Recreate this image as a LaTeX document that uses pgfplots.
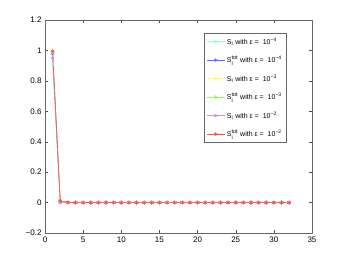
\documentclass[border=0pt]{standalone}
\usepackage{pgfplots}
\pgfplotsset{compat=1.18}
\usepackage{fontspec}
\setmainfont{Liberation Sans}
\definecolor{c1}{rgb}{0.55,1,0.9}
\definecolor{c2}{rgb}{0.35,0.45,1}
\definecolor{c3}{rgb}{1,1,0.35}
\definecolor{c4}{rgb}{0.55,1,0.35}
\definecolor{c5}{rgb}{0.8,0.55,1}
\definecolor{c6}{rgb}{1,0.3,0.3}
\newcommand{\Si}{S$_{\mbox{\fontsize{5.5}{5.5}\selectfont i}}$}
\newcommand{\Stot}{S$_{\mbox{\fontsize{5.5}{5.5}\selectfont i}}^{\mbox{\fontsize{5.5}{5.5}\selectfont tot}}$}
\newcommand{\eps}[1]{with ε = \hspace{2pt}10\textsuperscript{−#1}}
\begin{document}
\begin{tikzpicture}[x=1pt,y=1pt]
\useasboundingbox (-45,-30) rectangle (301,233);
\begin{axis}[
  at={(0,0)}, anchor=south west,
  scale only axis, width=267pt, height=213pt,
  xmin=0, xmax=35, ymin=-0.2, ymax=1.2,
  xtick={0,5,...,35}, ytick={-0.2,0,0.2,0.4,0.6,0.8,1,1.2},
  yticklabels={−0.2,0,0.2,0.4,0.6,0.8,1,1.2},
  tick align=inside, major tick length=3pt,
  tick style={black!70, line width=0.4pt},
  axis line style={black!60, line width=0.6pt},
  ticklabel style={font=\fontsize{8}{9}\selectfont},
  /pgf/number format/assume math mode=true,
  legend style={at={(0.594,0.94)}, anchor=north west, font=\fontsize{7}{8}\selectfont,
    draw=black!60, line width=0.6pt, inner sep=2.5pt, row sep=6.5pt, cells={anchor=west}},
  legend cell align=left,
  legend image code/.code={\draw[#1] (0pt,0pt) -- (18pt,0pt); \draw[#1, mark repeat=2, mark phase=2] plot coordinates {(0pt,0pt)(9pt,0pt)(18pt,0pt)};},
  every axis plot/.append style={line width=0.6pt, mark=asterisk, mark size=2pt},
]
\addplot[c1] coordinates {(1,0.91)(2,0.005)(3,0)(4,0)(5,0)(6,0)(7,0)(8,0)(9,0)(10,0)(11,0)(12,0)(13,0)(14,0)(15,0)(16,0)(17,0)(18,0)(19,0)(20,0)(21,0)(22,0)(23,0)(24,0)(25,0)(26,0)(27,0)(28,0)(29,0)(30,0)(31,0)(32,0)};
\addlegendentry{\Si\ \eps{4}}
\addplot[c2] coordinates {(1,0.98)(2,0.008)(3,0.002)(4,0)(5,0)(6,0)(7,0)(8,0)(9,0)(10,0)(11,0)(12,0)(13,0)(14,0)(15,0)(16,0)(17,0)(18,0)(19,0)(20,0)(21,0)(22,0)(23,0)(24,0)(25,0)(26,0)(27,0)(28,0)(29,0)(30,0)(31,0)(32,0)};
\addlegendentry{\Stot\ \eps{4}}
\addplot[c3] coordinates {(1,1.0)(2,0.01)(3,0.002)(4,0)(5,0)(6,0.002)(7,0)(8,0)(9,0)(10,0)(11,0)(12,0)(13,0)(14,0)(15,0)(16,0)(17,0)(18,0)(19,0)(20,0)(21,0)(22,0)(23,0)(24,0)(25,0)(26,0)(27,0)(28,0)(29,0)(30,0)(31,0)(32,0)};
\addlegendentry{\Si\ \eps{3}}
\addplot[c4] coordinates {(1,0.99)(2,0.01)(3,0.002)(4,0)(5,0)(6,0)(7,0)(8,0)(9,0)(10,0)(11,0)(12,0)(13,0)(14,0)(15,0)(16,0)(17,0)(18,0)(19,0)(20,0)(21,0)(22,0)(23,0)(24,0)(25,0)(26,0)(27,0)(28,0)(29,0)(30,0)(31,0)(32,0)};
\addlegendentry{\Stot\ \eps{3}}
\addplot[c5] coordinates {(1,0.95)(2,0.0)(3,0)(4,0)(5,0)(6,0)(7,0)(8,0)(9,0)(10,0)(11,0)(12,0)(13,0)(14,0)(15,0)(16,0)(17,0)(18,0)(19,0)(20,0)(21,0)(22,0)(23,0)(24,0)(25,0)(26,0)(27,0)(28,0)(29,0)(30,0)(31,0)(32,0)};
\addlegendentry{\Si\ \eps{2}}
\addplot[c6] coordinates {(1,0.995)(2,0.012)(3,0.002)(4,0)(5,0)(6,0)(7,0)(8,0)(9,0)(10,0)(11,0)(12,0)(13,0)(14,0)(15,0)(16,0)(17,0)(18,0)(19,0)(20,0)(21,0)(22,0)(23,0)(24,0)(25,0)(26,0)(27,0)(28,0)(29,0)(30,0)(31,0)(32,0)};
\addlegendentry{\Stot\ \eps{2}}
\end{axis}
\end{tikzpicture}
\end{document}
